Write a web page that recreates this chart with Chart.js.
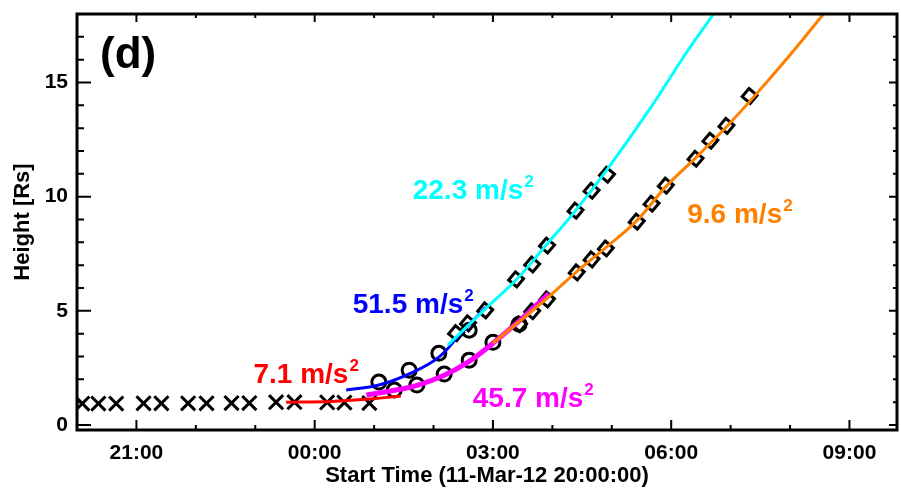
<!DOCTYPE html>
<html>
<head>
<meta charset="utf-8">
<script src="https://cdn.jsdelivr.net/npm/chart.js@4.4.1/dist/chart.umd.min.js"></script>
<style>
  body { margin: 0; background: #fff; }
  canvas { display: block; }
</style>
</head>
<body>
<canvas id="grafico" width="901" height="489"></canvas>
<script>
// hours after 11-Mar-12 20:00:00, heights in solar radii
const crossT = [0.09, 0.36, 0.66, 1.12, 1.42, 1.87, 2.18, 2.60, 2.90, 3.35, 3.66, 4.21, 4.50, 4.92];
const crossH = [0.94, 0.94, 0.94, 0.95, 0.95, 0.95, 0.95, 0.96, 0.96, 1.00, 1.00, 0.99, 0.98, 0.96];

const circUpT = [5.08, 5.59, 6.09, 6.60];
const circUpH = [1.88, 2.40, 3.14, 4.15];
const circLoT = [5.34, 5.72, 6.18, 6.60, 7.00, 7.44];
const circLoH = [1.53, 1.75, 2.23, 2.84, 3.62, 4.41];

const diaUpT = [6.38, 6.58, 6.87, 7.39, 7.66, 7.91, 8.39, 8.66, 8.92];
const diaUpH = [4.02, 4.45, 5.02, 6.38, 7.03, 7.86, 9.39, 10.26, 10.96];
const diaLoT = [7.44, 7.66, 7.91, 8.41, 8.66, 8.90, 9.42, 9.67, 9.91, 10.41, 10.66, 10.93, 11.32];
const diaLoH = [4.41, 4.98, 5.50, 6.68, 7.25, 7.73, 8.91, 9.69, 10.48, 11.66, 12.45, 13.10, 14.41];

// fitted curves
const redT = [3.52, 4.28, 4.95, 5.45];
const redH = [1.00, 1.03, 1.14, 1.27];
const blueT = [4.53, 5.08, 5.62, 6.09, 6.46, 6.88];
const blueH = [1.53, 1.75, 2.27, 2.97, 4.02, 5.15];
const cyanT = [6.24, 6.88, 7.40, 7.86, 8.39, 8.93, 9.66, 10.28, 10.71];
const cyanH = [3.49, 5.11, 6.38, 7.77, 9.39, 11.22, 13.92, 16.40, 17.99];
const magT = [4.87, 5.37, 5.74, 6.18, 6.58, 7.00, 7.42, 7.94];
const magH = [1.31, 1.53, 1.75, 2.18, 2.75, 3.58, 4.50, 5.76];
const orgT = [7.00, 7.91, 8.41, 8.90, 9.42, 9.91, 10.41, 10.93, 11.39, 12.01, 12.56];
const orgH = [3.58, 5.55, 6.72, 7.77, 8.95, 10.44, 11.70, 13.06, 14.37, 16.24, 17.99];

const tickHoras = [1, 4, 7, 10, 13];
const tickAltura = [0, 5, 10, 15];

const rotulos = [
  { t: 2.97, h: 1.83, txt: '7.1 m/s', cor: '#ff0000' },
  { t: 4.64, h: 4.89, txt: '51.5 m/s', cor: '#0000ff' },
  { t: 5.65, h: 9.91, txt: '22.3 m/s', cor: '#00ffff' },
  { t: 6.66, h: 0.79, txt: '45.7 m/s', cor: '#ff00ff' },
  { t: 10.27, h: 8.86, txt: '9.6 m/s', cor: '#ff8000' }
];

const FONTE = '"Liberation Sans", Arial, sans-serif';

function pares(t, h) {
  return t.map((v, i) => ({ x: v, y: h[i] }));
}

function marcador(t, h, estilo, raio, rot) {
  return {
    data: pares(t, h),
    showLine: false,
    pointStyle: estilo,
    pointRadius: raio,
    pointRotation: rot || 0,
    pointBorderColor: '#000',
    pointBackgroundColor: 'rgba(0,0,0,0)',
    pointBorderWidth: 3,
    order: 5
  };
}

function curva(t, h, cor, largura, ordem) {
  return {
    data: pares(t, h),
    showLine: true,
    borderColor: cor,
    borderWidth: largura,
    pointRadius: 0,
    tension: 0.4,
    fill: false,
    order: ordem
  };
}

const moldura = {
  id: 'moldura',
  afterDraw(chart) {
    const { ctx, chartArea: a, scales } = chart;
    const xs = scales.x, ys = scales.y;
    ctx.save();
    ctx.strokeStyle = '#000';
    ctx.lineWidth = 3;
    ctx.strokeRect(a.left, a.top, a.right - a.left, a.bottom - a.top);
    ctx.lineWidth = 2;
    ctx.beginPath();
    for (let h = 1; h <= 13; h++) {
      const px = xs.getPixelForValue(h);
      const maior = tickHoras.includes(h);
      ctx.moveTo(px, a.bottom); ctx.lineTo(px, a.bottom - (maior ? 10 : 5));
      ctx.moveTo(px, a.top); ctx.lineTo(px, a.top + (maior ? 8 : 4));
    }
    for (let v = 0; v <= 17; v++) {
      const py = ys.getPixelForValue(v);
      const maior = v % 5 === 0;
      ctx.moveTo(a.left, py); ctx.lineTo(a.left + (maior ? 14 : 7), py);
      ctx.moveTo(a.right, py); ctx.lineTo(a.right - (maior ? 8 : 4), py);
    }
    ctx.stroke();

    ctx.fillStyle = '#000';
    ctx.font = 'bold 44px ' + FONTE;
    ctx.textBaseline = 'alphabetic';
    ctx.fillText('(d)', 100, 68);

    rotulos.forEach(r => {
      const px = xs.getPixelForValue(r.t);
      const py = ys.getPixelForValue(r.h);
      ctx.fillStyle = r.cor;
      ctx.font = 'bold 28px ' + FONTE;
      ctx.fillText(r.txt, px, py);
      const w = ctx.measureText(r.txt).width;
      ctx.font = 'bold 17px ' + FONTE;
      ctx.fillText('2', px + w + 1, py - 12);
    });
    ctx.restore();
  }
};

const ctx = document.getElementById('grafico').getContext('2d');

new Chart(ctx, {
  type: 'scatter',
  data: {
    datasets: [
      marcador(crossT, crossH, 'crossRot', 10),
      marcador(circUpT, circUpH, 'circle', 7),
      marcador(circLoT, circLoH, 'circle', 7),
      marcador(diaUpT, diaUpH, 'rect', 7.5, 40),
      marcador(diaLoT, diaLoH, 'rect', 7.5, 40),
      curva(magT, magH, '#ff00ff', 5, 4),
      curva(blueT, blueH, '#0000ff', 3, 3),
      curva(cyanT, cyanH, '#00ffff', 3, 2),
      curva(orgT, orgH, '#ff8000', 3, 2),
      curva(redT, redH, '#ff0000', 3, 1)
    ]
  },
  options: {
    responsive: false,
    animation: false,
    layout: { autoPadding: false, padding: { left: 0, right: 4, top: 14, bottom: 0 } },
    plugins: { legend: { display: false }, tooltip: { enabled: false } },
    scales: {
      x: {
        type: 'linear',
        min: 0,
        max: 13.8,
        grid: { display: false },
        border: { display: false },
        afterBuildTicks: s => { s.ticks = tickHoras.map(v => ({ value: v })); },
        afterFit: s => { s.height = 59; s.paddingLeft = 0; s.paddingRight = 0; },
        ticks: {
          color: '#000',
          padding: 3,
          maxRotation: 0,
          font: { family: FONTE, size: 21, weight: 'bold' },
          callback: v => String((20 + v) % 24).padStart(2, '0') + ':00'
        },
        title: {
          display: true,
          text: 'Start Time (11-Mar-12 20:00:00)',
          color: '#000',
          padding: { top: 0, bottom: 0 },
          font: { family: FONTE, size: 22, weight: 'bold' }
        }
      },
      y: {
        min: -0.22,
        max: 18,
        grid: { display: false },
        border: { display: false },
        afterBuildTicks: s => { s.ticks = tickAltura.map(v => ({ value: v })); },
        afterFit: s => { s.width = 77; s.paddingTop = 0; s.paddingBottom = 0; },
        ticks: {
          color: '#000',
          padding: 1,
          font: { family: FONTE, size: 21, weight: 'bold' }
        },
        title: {
          display: true,
          text: 'Height [Rs]',
          color: '#000',
          padding: { top: 10, bottom: 0 },
          font: { family: FONTE, size: 22, weight: 'bold' }
        }
      }
    }
  },
  plugins: [moldura]
});
</script>
</body>
</html>
